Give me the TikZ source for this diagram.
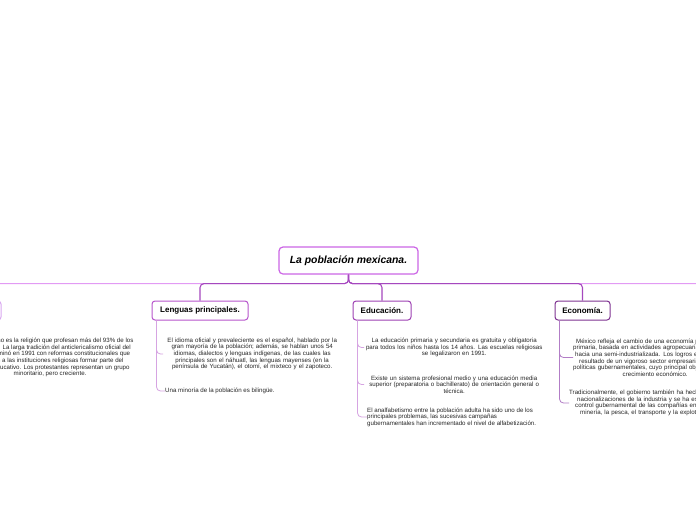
\documentclass[tikz,border=0pt]{standalone}
\usepackage{fontspec}
\setmainfont{Liberation Sans}
\usetikzlibrary{positioning}

\definecolor{raizc}{HTML}{CC66E6}
\definecolor{ramac}{HTML}{A548BE}
\definecolor{clarac}{HTML}{E29AF4}
\definecolor{relc}{HTML}{D9A8F0}
\definecolor{lengc}{HTML}{B755CC}
\definecolor{educc}{HTML}{9E42B3}
\definecolor{econc}{HTML}{7F3391}
\definecolor{hojac}{HTML}{D6A4E2}
\definecolor{hojaoscc}{HTML}{B27DC6}

\newcommand{\lineaizq}[1]{\makebox[\linewidth][l]{#1}}

\tikzset{
    rama/.style={draw=ramac, line width=1.1pt, rounded corners=4pt},
    ramaclara/.style={draw=clarac, line width=1.1pt, rounded corners=4pt},
    hoja/.style={line width=0.8pt, rounded corners=4pt},
    tema/.style={draw, line width=1pt, rounded corners=3pt, fill=white, inner sep=0pt,
        minimum height=19pt, font=\bfseries\fontsize{8}{9.5}\selectfont},
    texto/.style={inner sep=0pt, align=center, text=black!85,
        font=\fontsize{6.15}{6.6}\selectfont}
}

\begin{document}
\begin{tikzpicture}[x=1pt, y=-1pt]
    \useasboundingbox (0,0) rectangle (696,520);
    \fill[white] (0,0) rectangle (696,520);

    % --- Raiz ---
    \node[draw=raizc, line width=1.2pt, rounded corners=4pt, fill=white,
        minimum width=139pt, minimum height=27pt,
        font=\bfseries\itshape\fontsize{10.4}{12}\selectfont] (raiz) at (348.5,260.5) {La población mexicana.};

    % --- Temas ---
    \node[tema, draw=relc, minimum width=56pt] (relig) at (-27,310.5) {Religión.};
    \node[tema, draw=lengc, minimum width=96pt] (leng) at (200,310.5) {Lenguas principales.};
    \node[tema, draw=educc, minimum width=58pt] (educ) at (382,310.5) {Educación.};
    \node[tema, draw=econc, minimum width=55pt] (econ) at (582.5,310.5) {Economía.};
    \coordinate (fuera) at (780,301); % rama que sale del cuadro

    % --- Ramas ---
    \draw[ramaclara] (raiz.south) -- ++(0,9) -| (fuera);
    \draw[ramaclara] (raiz.south) -- ++(0,9) -| (relig.north);
    \foreach \t in {leng,educ,econ}
        \draw[rama] (raiz.south) -- ++(0,9) -| (\t.north);

    % --- Religion ---
    \node[texto] (religA) at (50,357.5) {El catolicismo es la religión que profesan más del 93\% de los\\
        mexicanos. La larga tradición del anticlericalismo oficial del\\
        Estado terminó en 1991 con reformas constitucionales que\\
        permiten a las instituciones religiosas formar parte del\\
        sistema educativo. Los protestantes representan un grupo\\
        minoritario, pero creciente.};
    \draw[hoja, draw=hojac] ([xshift=5pt]relig.south west) |- (religA.west);

    % --- Lenguas ---
    \node[texto, anchor=west, text width=178pt] (lengA) at (163,354) {El idioma oficial y prevaleciente es el español, hablado por la\\
        gran mayoría de la población; además, se hablan unos 54\\
        idiomas, dialectos y lenguas indígenas, de las cuales las\\
        principales son el náhuatl, las lenguas mayenses (en la\\
        península de Yucatán), el otomí, el mixteco y el zapoteco.};
    \node[texto, anchor=west, align=left] (lengB) at (165,391) {Una minoría de la población es bilingüe.};
    \draw[hoja, draw=hojac] ([xshift=5pt]leng.south west) |- (lengA.west);
    \draw[hoja, draw=hojac] ([xshift=5pt]leng.south west) |- (lengB.west);

    % --- Educacion ---
    \node[texto, anchor=west, text width=180pt] (educA) at (364,347.5) {La educación primaria y secundaria es gratuita y obligatoria\\
        para todos los niños hasta los 14 años. Las escuelas religiosas\\
        se legalizaron en 1991.};
    \node[texto, anchor=west, text width=180pt] (educB) at (364,384.5) {Existe un sistema profesional medio y una educación media\\
        superior (preparatoria o bachillerato) de orientación general o\\
        técnica.};
    \node[texto, anchor=west, align=left] (educC) at (367,417) {El analfabetismo entre la población adulta ha sido uno de los\\
        principales problemas, las sucesivas campañas\\
        gubernamentales han incrementado el nivel de alfabetización.};
    \foreach \h in {educA,educB,educC}
        \draw[hoja, draw=hojac] ([xshift=5pt]educ.south west) |- (\h.west);

    % --- Economia ---
    \node[texto, anchor=west, text width=164pt] (econA) at (573,357.5) {\lineaizq{\hspace{3pt}México refleja el cambio de una economía predominantemente}\\
        \lineaizq{primaria, basada en actividades agropecuarias, mineras y}\\
        \lineaizq{\hspace{2pt}hacia una semi-industrializada. Los logros económicos son}\\
        \lineaizq{\hspace{6pt}resultado de un vigoroso sector empresarial y de unas}\\
        \lineaizq{políticas gubernamentales, cuyo principal objetivo es el}\\
        crecimiento económico.};
    \node[texto, anchor=west, text width=164pt] (econB) at (569,403) {\lineaizq{Tradicionalmente, el gobierno también ha hecho}\\
        \lineaizq{\hspace{8pt}nacionalizaciones de la industria y se ha establecido}\\
        \lineaizq{\hspace{6pt}control gubernamental de las compañías en la}\\
        \lineaizq{\hspace{11pt}minería, la pesca, el transporte y la explotación}};
    \foreach \h in {econA,econB}
        \draw[hoja, draw=hojaoscc] ([xshift=5pt]econ.south west) |- (\h.west);
\end{tikzpicture}
\end{document}
